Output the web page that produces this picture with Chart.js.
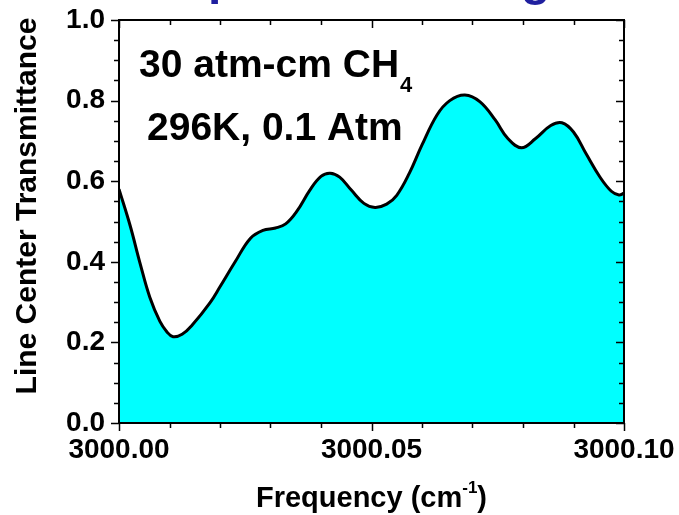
<!DOCTYPE html>
<html>
<head>
<meta charset="utf-8">
<script src="https://cdn.jsdelivr.net/npm/chart.js@4/dist/chart.umd.min.js"></script>
<style>
  html, body { margin: 0; padding: 0; background: #fff; }
  #wrap { width: 679px; height: 515px; position: relative; }
</style>
</head>
<body>
<div id="wrap"><canvas id="specChart"></canvas></div>
<script>
// DATA
const freq = [3000.0000, 3000.0022, 3000.0042, 3000.0061, 3000.0081, 3000.0095, 3000.0107, 3000.0125,
  3000.0145, 3000.0180, 3000.0200, 3000.0230, 3000.0260, 3000.0285, 3000.0310, 3000.0330, 3000.0352,
  3000.0378, 3000.0400, 3000.0418, 3000.0437, 3000.0460, 3000.0485, 3000.0507, 3000.0530, 3000.0550,
  3000.0575, 3000.0600, 3000.0630, 3000.0655, 3000.0685, 3000.0715, 3000.0745, 3000.0770, 3000.0797,
  3000.0825, 3000.0855, 3000.0877, 3000.0900, 3000.0925, 3000.0952, 3000.0975, 3000.0990, 3000.1000];
const transmittance = [0.580, 0.490, 0.395, 0.312, 0.252, 0.226, 0.214, 0.220,
  0.243, 0.298, 0.338, 0.400, 0.458, 0.478, 0.484, 0.494, 0.525,
  0.578, 0.612, 0.620, 0.610, 0.578, 0.545, 0.535, 0.543, 0.565,
  0.620, 0.690, 0.765, 0.800, 0.814, 0.797, 0.752, 0.706, 0.683,
  0.706, 0.738, 0.745, 0.722, 0.668, 0.611, 0.575, 0.566, 0.570];
const xMajorLabels = ['3000.00', '3000.05', '3000.10'];
const yMajorLabels = ['0.0', '0.2', '0.4', '0.6', '0.8', '1.0'];
const yTitle = 'Line Center Transmittance';
const noteLine1 = '30 atm-cm CH';
const noteSub = '4';
const noteLine2 = '296K, 0.1 Atm';

const FONT = '"Liberation Sans", Arial, sans-serif';

// frame + ticks on all four sides, major longer than minor
const framePlugin = {
  id: 'frame',
  afterDraw(chart) {
    const c = chart.ctx;
    const a = chart.chartArea;
    const xs = chart.scales.x, ys = chart.scales.y;
    c.save();
    c.strokeStyle = '#000';
    c.lineWidth = 1.5;
    c.beginPath();
    xs.ticks.forEach(t => {
      const px = Math.round(xs.getPixelForValue(t.value)) + 0.5;
      const len = t.label !== '' ? 8 : 5;
      c.moveTo(px, a.bottom); c.lineTo(px, a.bottom + len);
      c.moveTo(px, a.top); c.lineTo(px, a.top + len);
    });
    ys.ticks.forEach(t => {
      const py = Math.round(ys.getPixelForValue(t.value)) + 0.5;
      const len = t.label !== '' ? 8 : 5;
      c.moveTo(a.left, py); c.lineTo(a.left - len, py);
      c.moveTo(a.right, py); c.lineTo(a.right - len, py);
    });
    c.stroke();
    c.lineWidth = 2;
    c.strokeRect(a.left, a.top, a.right - a.left, a.bottom - a.top);

    // slide title above, cut off by the top edge (only descenders show)
    c.fillStyle = '#1f1f9f';
    c.textBaseline = 'alphabetic';
    c.textAlign = 'left';
    c.font = 'bold 48px ' + FONT;
    c.fillText('p', 208, -6);
    c.fillText('g', 521, -5);

    // notes
    c.fillStyle = '#000';
    c.font = 'bold 39px ' + FONT;
    c.fillText(noteLine1, 139, 77);
    const w1 = c.measureText(noteLine1).width;
    c.fillText(noteLine2, 147, 140);
    c.font = 'bold 22px ' + FONT;
    c.fillText(noteSub, 139 + w1 + 1, 92);

    // y axis title
    c.save();
    c.translate(36, 206);
    c.rotate(-Math.PI / 2);
    c.textAlign = 'center';
    c.font = 'bold 30px ' + FONT;
    c.fillText(yTitle, 0, 0);
    c.restore();

    // x axis title with superscript
    const cx = (a.left + a.right) / 2;
    c.font = 'bold 29px ' + FONT;
    const p1 = 'Frequency (cm', p3 = ')';
    const w1t = c.measureText(p1).width, w3 = c.measureText(p3).width;
    c.font = 'bold 17px ' + FONT;
    const w2 = c.measureText('-1').width;
    let x0 = cx - (w1t + w2 + w3) / 2;
    c.font = 'bold 29px ' + FONT;
    c.fillText(p1, x0, 507);
    c.font = 'bold 17px ' + FONT;
    c.fillText('-1', x0 + w1t, 493);
    c.font = 'bold 29px ' + FONT;
    c.fillText(p3, x0 + w1t + w2, 507);
    c.restore();
  }
};

const ctx = document.getElementById('specChart').getContext('2d');
const specChart = new Chart(ctx, {
  type: 'line',
  data: {
    datasets: [{
      data: freq.map((f, i) => ({ x: f, y: transmittance[i] })),
      borderColor: '#000',
      borderWidth: 3,
      backgroundColor: '#00FFFF',
      fill: 'origin',
      pointRadius: 0,
      tension: 0.4,
    }]
  },
  options: {
    responsive: true,
    maintainAspectRatio: false,
    animation: false,
    layout: { padding: { left: 0, right: 55, top: 20, bottom: 0 } },
    plugins: { legend: { display: false }, tooltip: { enabled: false } },
    scales: {
      x: {
        type: 'linear',
        min: 3000.00,
        max: 3000.10,
        afterFit(scale) { scale.height = 92; scale.paddingLeft = 0; scale.paddingRight = 0; },
        grid: { display: false, drawTicks: false },
        border: { display: false },
        ticks: {
          stepSize: 0.01,
          autoSkip: false,
          maxRotation: 0,
          padding: 10,
          color: '#000',
          font: { family: FONT, size: 28, weight: 'bold' },
          callback: function(value) {
            const s = value.toFixed(2);
            return xMajorLabels.includes(s) ? s : '';
          }
        }
      },
      y: {
        min: 0,
        max: 1,
        afterFit(scale) { scale.width = 119; scale.paddingTop = 0; scale.paddingBottom = 0; },
        grid: { display: false, drawTicks: false },
        border: { display: false },
        ticks: {
          stepSize: 0.05,
          autoSkip: false,
          padding: 14,
          color: '#000',
          font: { family: FONT, size: 28, weight: 'bold' },
          callback: function(value) {
            const s = value.toFixed(1);
            return (Math.round(value * 100) % 20 === 0 && yMajorLabels.includes(s)) ? s : '';
          }
        }
      }
    }
  },
  plugins: [framePlugin]
});
</script>
</body>
</html>
